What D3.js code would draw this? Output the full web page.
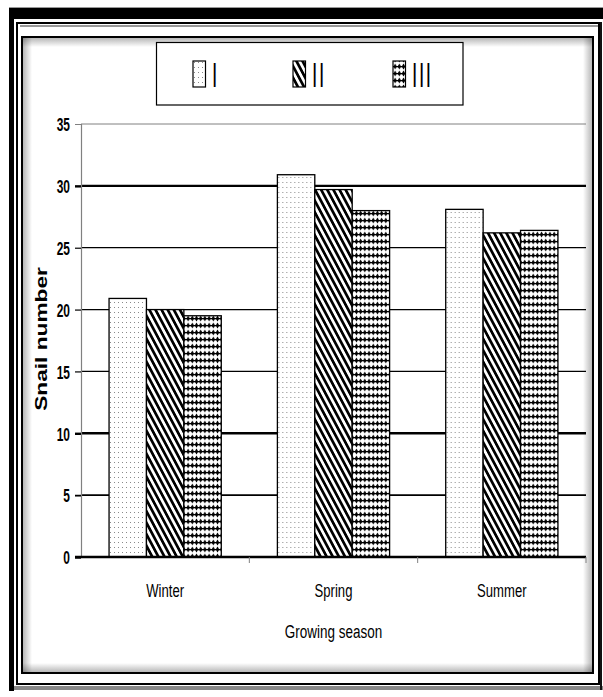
<!DOCTYPE html>
<html><head><meta charset="utf-8">
<script src="https://cdn.jsdelivr.net/npm/d3@7"></script>
<style>body{margin:0;background:#fff}svg{display:block}</style>
</head><body>
<svg id="c" width="603" height="697"></svg>
<script>
const categories = ["Winter", "Spring", "Summer"];
const seriesNames = ["I", "II", "III"];
const seriesI = [20.9, 30.9, 28.1];
const seriesII = [20.0, 29.7, 26.2];
const seriesIII = [19.5, 28.0, 26.4];
const yTicks = [0, 5, 10, 15, 20, 25, 30, 35];
const xTitle = "Growing season";
const yTitle = "Snail number";

const values = [seriesI, seriesII, seriesIII];
const sans = "'Liberation Sans',Arial,sans-serif";

const svg = d3.select("#c");
const defs = svg.append("defs");

// ---- patterns
const p1 = defs.append("pattern").attr("id", "pI").attr("patternUnits", "userSpaceOnUse")
  .attr("width", 4).attr("height", 5);
p1.append("rect").attr("width", 4).attr("height", 5).attr("fill", "#fff");
p1.append("rect").attr("x", 1).attr("y", 2).attr("width", 1).attr("height", 1).attr("fill", "#8a8a8a");

const p2 = defs.append("pattern").attr("id", "pII").attr("patternUnits", "userSpaceOnUse")
  .attr("width", 5.4).attr("height", 10).attr("patternTransform", "rotate(-28)");
p2.append("rect").attr("width", 5.4).attr("height", 10).attr("fill", "#fff");
p2.append("rect").attr("x", 0).attr("width", 2.7).attr("height", 10).attr("fill", "#000");

const p3 = defs.append("pattern").attr("id", "pIII").attr("patternUnits", "userSpaceOnUse")
  .attr("width", 4.2).attr("height", 7);
p3.append("rect").attr("width", 4.2).attr("height", 7).attr("fill", "#fff");
p3.append("rect").attr("x", 0).attr("y", 3).attr("width", 4.2).attr("height", 1.3).attr("fill", "#000");
p3.append("path").attr("d", "M2.1,0.5 L3.8,3.6 L2.1,6.5 L0.4,3.6 Z").attr("fill", "#000");
const fills = ["url(#pI)", "url(#pII)", "url(#pIII)"];

// ---- frame
svg.append("rect").attr("x", 9).attr("y", 7).attr("width", 594).attr("height", 1).attr("fill", "#999");
svg.append("rect").attr("x", 9).attr("y", 8).attr("width", 594).attr("height", 11).attr("fill", "#000");
svg.append("rect").attr("x", 9).attr("y", 8).attr("width", 5).attr("height", 683).attr("fill", "#000");
svg.append("rect").attr("x", 17).attr("y", 23).attr("width", 582).attr("height", 661)
  .attr("fill", "none").attr("stroke", "#000").attr("stroke-width", 2);
svg.append("rect").attr("x", 14).attr("y", 686).attr("width", 589).attr("height", 4).attr("fill", "#888");
svg.append("rect").attr("x", 600).attr("y", 22).attr("width", 2).attr("height", 668).attr("fill", "#111");
svg.append("rect").attr("x", 20).attr("y", 25).attr("width", 578).attr("height", 2).attr("fill", "#999");

const ib = {x: 22, y: 37, w: 571, h: 636};
svg.append("rect").attr("x", ib.x).attr("y", ib.y).attr("width", ib.w).attr("height", ib.h)
  .attr("fill", "#fff").attr("stroke", "#000").attr("stroke-width", 2);
function grad(id, x1, y1, x2, y2) {
  const g = defs.append("linearGradient").attr("id", id)
    .attr("x1", x1).attr("y1", y1).attr("x2", x2).attr("y2", y2);
  g.append("stop").attr("offset", 0).attr("stop-color", "#000").attr("stop-opacity", 0.28);
  g.append("stop").attr("offset", 1).attr("stop-color", "#000").attr("stop-opacity", 0);
}
grad("gT", 0, 0, 0, 1); grad("gB", 0, 1, 0, 0); grad("gL", 0, 0, 1, 0); grad("gR", 1, 0, 0, 0);
const sw = 9;
svg.append("rect").attr("x", ib.x + 1).attr("y", ib.y + 1).attr("width", ib.w - 2).attr("height", sw).attr("fill", "url(#gT)");
svg.append("rect").attr("x", ib.x + 1).attr("y", ib.y + ib.h - 1 - sw).attr("width", ib.w - 2).attr("height", sw).attr("fill", "url(#gB)");
svg.append("rect").attr("x", ib.x + 1).attr("y", ib.y + 1).attr("width", sw).attr("height", ib.h - 2).attr("fill", "url(#gL)");
svg.append("rect").attr("x", ib.x + ib.w - 1 - sw).attr("y", ib.y + 1).attr("width", sw).attr("height", ib.h - 2).attr("fill", "url(#gR)");

// ---- scales
const plot = {left: 81, right: 586, top: 124, bottom: 557};
const y = d3.scaleLinear().domain([0, 35]).range([plot.bottom, plot.top]);
const x0 = d3.scaleBand().domain(categories).range([plot.left, plot.right]).padding(0);
const bw = x0.bandwidth();
const gap = bw * 0.75 / 4.5;
const x1 = d3.scaleBand().domain(seriesNames).range([gap, bw - gap]).padding(0);

function gridStyle(v) {
  if (v === 35) return {c: "#808080", w: 1};
  if (v === 30 || v === 10) return {c: "#000", w: 2.4};
  if (v === 5) return {c: "#000", w: 1.8};
  if (v === 0) return {c: "#000", w: 2.4};
  return {c: "#000", w: 1.2};
}
svg.append("g").selectAll("line").data(yTicks.filter(v => v > 0)).join("line")
  .attr("x1", plot.left).attr("x2", plot.right)
  .attr("y1", d => y(d)).attr("y2", d => y(d))
  .attr("stroke", d => gridStyle(d).c).attr("stroke-width", d => gridStyle(d).w);

// y axis
const ysx = 0.63;
const yAxis = d3.axisLeft(y).tickValues(yTicks).tickSize(6).tickPadding(5).tickFormat(d3.format("d"));
const gy = svg.append("g").attr("transform", `translate(${plot.left},0)`).call(yAxis);
gy.select(".domain").attr("stroke", "#808080").attr("stroke-width", 1.2);
gy.selectAll(".tick line").attr("stroke", d => gridStyle(d).c === "#808080" ? "#808080" : "#000")
  .attr("stroke-width", d => gridStyle(d).w);
gy.selectAll(".tick text").attr("font-family", sans).attr("font-size", 19)
  .attr("font-weight", "bold").attr("fill", "#000").attr("dy", "0.36em")
  .attr("x", -11 / ysx).attr("transform", `scale(${ysx},1)`);

// bars
const groups = svg.append("g").selectAll("g").data(categories).join("g")
  .attr("transform", c => `translate(${x0(c)},0)`);
groups.selectAll("rect").data((c, ci) => seriesNames.map((s, si) => ({s, si, v: values[si][ci]}))).join("rect")
  .attr("x", d => x1(d.s)).attr("width", x1.bandwidth())
  .attr("y", d => y(d.v)).attr("height", d => y(0) - y(d.v))
  .attr("fill", d => fills[d.si]).attr("stroke", "#000").attr("stroke-width", 1.3);

// x axis
const xAxis = d3.axisBottom(x0).tickSize(0).tickPadding(0);
const gx = svg.append("g").attr("transform", `translate(0,${plot.bottom})`).call(xAxis);
gx.select(".domain").remove();
gx.selectAll(".tick text").attr("font-family", sans).attr("font-size", 19)
  .attr("fill", "#000").attr("y", 40).attr("dy", 0).attr("transform", "scale(0.69,1)");
svg.append("line").attr("x1", plot.left - 6).attr("x2", plot.right).attr("y1", y(0)).attr("y2", y(0))
  .attr("stroke", "#000").attr("stroke-width", 2.4);
const bounds = categories.map(c => x0(c) + bw);
svg.append("g").selectAll("line").data(bounds).join("line")
  .attr("x1", d => d).attr("x2", d => d).attr("y1", y(0)).attr("y2", y(0) + 6)
  .attr("stroke", "#808080").attr("stroke-width", 1);

// titles
svg.append("text").attr("transform", `translate(${(plot.left + plot.right) / 2},638) scale(0.71,1)`)
  .attr("text-anchor", "middle").attr("font-family", sans).attr("font-size", 19)
  .attr("fill", "#000").text(xTitle);
svg.append("text").attr("transform", `translate(47,339) rotate(-90) scale(1.42,1)`)
  .attr("text-anchor", "middle").attr("font-family", sans)
  .attr("font-size", 16).attr("font-weight", "bold").attr("fill", "#000").text(yTitle);

// legend
const lg = svg.append("g");
lg.append("rect").attr("x", 156.5).attr("y", 42.5).attr("width", 306.5).attr("height", 62.5)
  .attr("fill", "#fff").attr("stroke", "#000").attr("stroke-width", 1.2);
const legendX = d3.scalePoint().domain(seriesNames).range([193, 393]);
const li = lg.selectAll("g.li").data(seriesNames).join("g").attr("class", "li")
  .attr("transform", d => `translate(${legendX(d)},0)`);
li.append("rect").attr("x", 0).attr("y", 61).attr("width", 12.5).attr("height", 26)
  .attr("fill", (d, i) => fills[i]).attr("stroke", "#000").attr("stroke-width", 1.2);
li.append("text").attr("transform", "translate(19,87) scale(1,1.85)")
  .attr("font-family", sans).attr("font-size", 19).attr("letter-spacing", 1.6)
  .attr("fill", "#000").text(d => d);
</script>
</body></html>
